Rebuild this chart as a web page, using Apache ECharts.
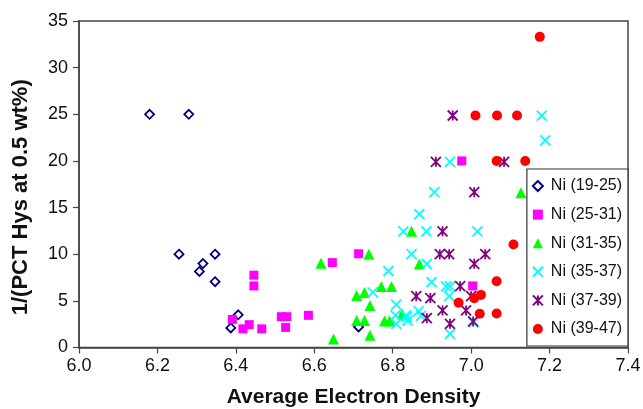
<!DOCTYPE html>
<html>
<head>
<meta charset="utf-8">
<script src="https://cdn.jsdelivr.net/npm/echarts@6/dist/echarts.min.js"></script>
<style>html,body{margin:0;padding:0;background:#fff;}#c{width:643px;height:409px;}</style>
</head>
<body>
<div id="c"></div>
<script>
var seriesNames = ['Ni (19-25)', 'Ni (25-31)', 'Ni (31-35)', 'Ni (35-37)', 'Ni (37-39)', 'Ni (39-47)'];
var xTicks = ['6.0', '6.2', '6.4', '6.6', '6.8', '7.0', '7.2', '7.4'];
var yTicks = [0, 5, 10, 15, 20, 25, 30, 35];

var ni19_25 = [[6.18,25],[6.28,25],[6.255,10],[6.347,10],[6.316,9.0],[6.307,8.15],[6.347,7.05],[6.406,3.5],[6.387,2.1],[6.713,2.2]];
var ni25_31 = [[6.446,7.75],[6.446,6.6],[6.391,3.0],[6.434,2.45],[6.418,2.0],[6.466,2.0],[6.516,3.3],[6.53,3.3],[6.527,2.15],[6.585,3.45],[6.646,9.1],[6.713,10.05],[6.976,20],[7.004,6.6]];
var ni31_35 = [[6.617,9.04],[6.739,10],[6.848,12.45],[6.868,8.95],[6.708,5.57],[6.728,5.9],[6.771,6.55],[6.797,6.55],[6.742,4.5],[6.708,2.9],[6.728,2.9],[6.779,2.85],[6.792,2.85],[6.742,1.3],[6.649,0.9],[6.824,3.6],[7.127,16.6]];
var ni35_37 = [[7.18,24.85],[7.189,22.2],[6.946,19.9],[6.906,16.65],[6.868,14.3],[6.827,12.45],[6.886,12.45],[7.016,12.45],[6.848,10],[6.887,8.95],[6.789,8.2],[6.899,7.0],[6.936,6.55],[6.946,6.55],[6.944,5.5],[6.749,5.9],[6.809,4.6],[6.807,3.45],[6.834,3.45],[6.866,3.9],[6.872,3.4],[6.836,3.25],[6.809,2.54],[6.838,2.89],[6.946,1.47],[7.006,2.7]];
var ni37_39 = [[6.953,24.87],[6.91,19.9],[7.084,19.9],[7.008,16.65],[6.927,12.45],[6.92,10],[6.944,10],[7.036,10],[7.008,8.97],[6.972,6.57],[6.86,5.5],[6.896,5.3],[7.0,5.5],[6.927,3.97],[6.987,3.97],[6.887,3.14],[6.946,2.54],[7.005,2.79]];
var ni39_47 = [[7.175,33.3],[7.011,24.87],[7.066,24.87],[7.117,24.87],[7.065,20],[7.138,20],[7.108,11.05],[7.065,7.1],[7.025,5.64],[7.008,5.29],[6.968,4.8],[7.022,3.61],[7.065,3.65]];

var FONT = 'Liberation Sans, Arial, sans-serif';
var xPath = 'path://M0,0L10,10M10,0L0,10';
var starPath = 'path://M0,0L10,10M10,0L0,10M5,0L5,10';

var chart = echarts.init(document.getElementById('c'), null, {renderer: 'canvas'});
chart.setOption({
  backgroundColor: '#fff',
  animation: false,
  grid: {left: 79, right: 15, top: 21, bottom: 61.5, show: true, borderColor: '#444', borderWidth: 1.5,
         backgroundColor: 'transparent', containLabel: false, outerBoundsMode: 'none'},
  xAxis: {
    type: 'value', min: 6.0, max: 7.4, interval: 0.2,
    axisLine: {show: true, onZero: false, lineStyle: {color: '#444', width: 1.5}},
    axisTick: {show: true, inside: false, length: 6, lineStyle: {color: '#444', width: 1.2}},
    splitLine: {show: false},
    axisLabel: {fontFamily: FONT, fontSize: 18, color: '#111', margin: 10, hideOverlap: false,
      formatter: function (v) { var i = Math.round((v - 6.0) / 0.2); return xTicks[i] !== undefined ? xTicks[i] : v.toFixed(1); }},
    name: 'Average Electron Density', nameLocation: 'middle', nameGap: 39,
    nameTextStyle: {fontFamily: FONT, fontSize: 21, fontWeight: 'bold', color: '#111'}
  },
  yAxis: {
    type: 'value', min: 0, max: 35, interval: 5,
    axisLine: {show: true, onZero: false, lineStyle: {color: '#444', width: 1.5}},
    axisTick: {show: true, inside: false, length: 6, lineStyle: {color: '#444', width: 1.2}},
    splitLine: {show: false},
    axisLabel: {fontFamily: FONT, fontSize: 18, color: '#111', margin: 11,
      formatter: function (v) { return String(yTicks[Math.round(v / 5)]); }},
    name: '1/(PCT Hys at 0.5 wt%)', nameLocation: 'middle', nameGap: 47,
    nameTextStyle: {fontFamily: FONT, fontSize: 22, fontWeight: 'bold', color: '#111', padding: [0, 26, 0, 0]}
  },
  legend: {
    orient: 'vertical', right: 15, top: 169,
    padding: [9, 6, 9, 5], itemGap: 12.6, itemWidth: 10, itemHeight: 10,
    backgroundColor: '#fff', borderColor: '#333', borderWidth: 1.2,
    textStyle: {fontFamily: FONT, fontSize: 16, color: '#111', padding: [0, 0, 0, 3]},
    data: seriesNames
  },
  series: [
    {name: seriesNames[0], type: 'scatter', data: ni19_25, symbol: 'diamond', symbolSize: 9,
     itemStyle: {color: '#fff', borderColor: '#00007f', borderWidth: 1.8, opacity: 1}},
    {name: seriesNames[1], type: 'scatter', data: ni25_31, symbol: 'rect', symbolSize: 9,
     itemStyle: {color: '#ff00ff', opacity: 1}},
    {name: seriesNames[2], type: 'scatter', data: ni31_35, symbol: 'triangle', symbolSize: 11,
     itemStyle: {color: '#00ff00', opacity: 1}},
    {name: seriesNames[3], type: 'scatter', data: ni35_37, symbol: xPath, symbolSize: 10,
     itemStyle: {color: '#00ffff', borderColor: '#00ffff', borderWidth: 1.8, opacity: 1}},
    {name: seriesNames[4], type: 'scatter', data: ni37_39, symbol: starPath, symbolSize: 10,
     itemStyle: {color: '#800080', borderColor: '#800080', borderWidth: 1.8, opacity: 1}},
    {name: seriesNames[5], type: 'scatter', data: ni39_47, symbol: 'circle', symbolSize: 10,
     itemStyle: {color: '#ff0000', opacity: 1}}
  ]
});
</script>
</body>
</html>
